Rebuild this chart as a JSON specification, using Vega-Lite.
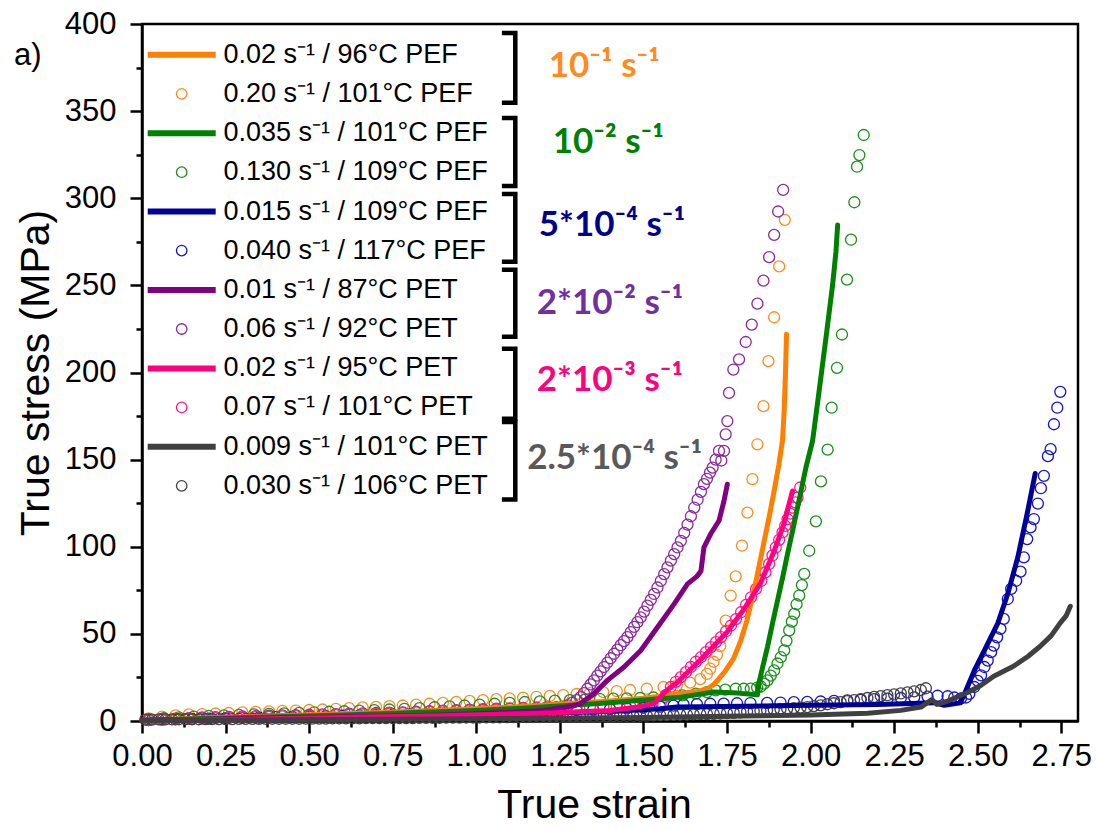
{
"$schema": "https://vega.github.io/schema/vega-lite/v6.json",
"width": 936, "height": 697,
"autosize": {"type": "none"},
"padding": {"left": 142, "top": 24, "right": 18, "bottom": 109},
"background": "white",
"config": {
 "view": {"stroke": "black", "strokeWidth": 2.5},
 "axis": {"grid": false, "domainColor": "black", "domainWidth": 2.5, "tickColor": "black", "tickWidth": 2.5, "tickSize": 12, "labelFont": "Liberation Sans", "labelFontSize": 31, "labelColor": "black", "titleFont": "Liberation Sans", "titleFontSize": 41, "titleFontWeight": "normal", "titleColor": "black"},
 "legend": {"title": null, "orient": "none", "padding": 0, "symbolSize": 100, "symbolOpacity": 1, "labelFont": "Liberation Sans", "labelFontSize": 27, "labelColor": "black", "labelOffset": 28.2, "rowPadding": 50.4, "labelLimit": 500}
},
"datasets": {
 "d": [
  {"s":"P1","x":0.02,"y":1.5},{"s":"P1","x":0.06,"y":2.5},{"s":"P1","x":0.10,"y":3.2},{"s":"P1","x":0.14,"y":3.8},{"s":"P1","x":0.18,"y":4.0},{"s":"P1","x":0.22,"y":4.3},{"s":"P1","x":0.26,"y":4.6},{"s":"P1","x":0.30,"y":4.9},{"s":"P1","x":0.34,"y":5.2},{"s":"P1","x":0.38,"y":5.5},{"s":"P1","x":0.42,"y":5.8},{"s":"P1","x":0.46,"y":6.0},{"s":"P1","x":0.50,"y":6.3},{"s":"P1","x":0.54,"y":6.6},{"s":"P1","x":0.58,"y":7.0},{"s":"P1","x":0.62,"y":7.4},{"s":"P1","x":0.66,"y":7.8},{"s":"P1","x":0.70,"y":8.1},{"s":"P1","x":0.74,"y":8.5},{"s":"P1","x":0.78,"y":8.9},{"s":"P1","x":0.82,"y":9.4},{"s":"P1","x":0.86,"y":9.9},{"s":"P1","x":0.90,"y":10.4},{"s":"P1","x":0.94,"y":11.0},{"s":"P1","x":0.98,"y":11.5},{"s":"P1","x":1.02,"y":12.0},{"s":"P1","x":1.06,"y":12.5},{"s":"P1","x":1.10,"y":13.0},{"s":"P1","x":1.14,"y":13.4},{"s":"P1","x":1.18,"y":13.9},{"s":"P1","x":1.22,"y":14.4},{"s":"P1","x":1.26,"y":14.9},{"s":"P1","x":1.30,"y":15.5},{"s":"P1","x":1.34,"y":16.0},{"s":"P1","x":1.38,"y":16.6},{"s":"P1","x":1.42,"y":17.2},{"s":"P1","x":1.46,"y":17.8},{"s":"P1","x":1.51,"y":18.5},{"s":"P1","x":1.56,"y":19.5},{"s":"P1","x":1.60,"y":20.5},{"s":"P1","x":1.64,"y":22},{"s":"P1","x":1.67,"y":24},{"s":"P1","x":1.69,"y":27},{"s":"P1","x":1.70,"y":30},{"s":"P1","x":1.71,"y":34},{"s":"P1","x":1.72,"y":38},{"s":"P1","x":1.73,"y":43},{"s":"P1","x":1.746,"y":57.6},{"s":"P1","x":1.761,"y":72},{"s":"P1","x":1.776,"y":83},{"s":"P1","x":1.795,"y":100.6},{"s":"P1","x":1.811,"y":119.6},{"s":"P1","x":1.826,"y":138.8},{"s":"P1","x":1.841,"y":158.8},{"s":"P1","x":1.859,"y":180.7},{"s":"P1","x":1.874,"y":206.5},{"s":"P1","x":1.891,"y":231.7},{"s":"P1","x":1.906,"y":260.9},{"s":"P1","x":1.923,"y":287.6},
  {"s":"P2","x":0.02,"y":1.0},{"s":"P2","x":0.065,"y":1.6},{"s":"P2","x":0.11,"y":2.1},{"s":"P2","x":0.155,"y":2.5},{"s":"P2","x":0.20,"y":2.9},{"s":"P2","x":0.245,"y":3.2},{"s":"P2","x":0.29,"y":3.5},{"s":"P2","x":0.335,"y":3.8},{"s":"P2","x":0.38,"y":4.1},{"s":"P2","x":0.425,"y":4.4},{"s":"P2","x":0.47,"y":4.7},{"s":"P2","x":0.515,"y":5.0},{"s":"P2","x":0.56,"y":5.3},{"s":"P2","x":0.605,"y":5.6},{"s":"P2","x":0.65,"y":5.9},{"s":"P2","x":0.695,"y":6.2},{"s":"P2","x":0.74,"y":6.6},{"s":"P2","x":0.785,"y":7.0},{"s":"P2","x":0.83,"y":7.4},{"s":"P2","x":0.875,"y":7.9},{"s":"P2","x":0.92,"y":8.4},{"s":"P2","x":0.965,"y":8.9},{"s":"P2","x":1.01,"y":9.4},{"s":"P2","x":1.055,"y":9.9},{"s":"P2","x":1.10,"y":10.4},{"s":"P2","x":1.145,"y":10.9},{"s":"P2","x":1.19,"y":11.3},{"s":"P2","x":1.235,"y":11.7},{"s":"P2","x":1.28,"y":12.0},{"s":"P2","x":1.325,"y":12.3},{"s":"P2","x":1.37,"y":12.6},{"s":"P2","x":1.41,"y":12.8},{"s":"P2","x":1.45,"y":13.0},{"s":"P2","x":1.49,"y":13.2},{"s":"P2","x":1.53,"y":13.5},{"s":"P2","x":1.565,"y":13.8},{"s":"P2","x":1.617,"y":14.7},{"s":"P2","x":1.657,"y":15.7},{"s":"P2","x":1.69,"y":16.6},{"s":"P2","x":1.716,"y":17.6},{"s":"P2","x":1.745,"y":18.0},{"s":"P2","x":1.776,"y":18.5},{"s":"P2","x":1.80,"y":18.5},{"s":"P2","x":1.821,"y":18.6},{"s":"P2","x":1.84,"y":19.2},{"s":"P2","x":1.851,"y":19.8},{"s":"P2","x":1.861,"y":21.5},{"s":"P2","x":1.871,"y":23.3},{"s":"P2","x":1.881,"y":26},{"s":"P2","x":1.891,"y":29},{"s":"P2","x":1.901,"y":33},{"s":"P2","x":1.911,"y":36.6},{"s":"P2","x":1.921,"y":40.5},{"s":"P2","x":1.928,"y":46},{"s":"P2","x":1.936,"y":52},{"s":"P2","x":1.944,"y":57},{"s":"P2","x":1.951,"y":61.5},{"s":"P2","x":1.958,"y":67},{"s":"P2","x":1.966,"y":72},{"s":"P2","x":1.974,"y":78},{"s":"P2","x":1.981,"y":84.4},{"s":"P2","x":1.996,"y":97.7},{"s":"P2","x":2.016,"y":114.6},{"s":"P2","x":2.031,"y":137.5},{"s":"P2","x":2.051,"y":155.7},{"s":"P2","x":2.063,"y":179.8},{"s":"P2","x":2.079,"y":202.7},{"s":"P2","x":2.094,"y":221.8},{"s":"P2","x":2.109,"y":253.3},{"s":"P2","x":2.121,"y":276.2},{"s":"P2","x":2.131,"y":297.7},{"s":"P2","x":2.139,"y":318.1},{"s":"P2","x":2.146,"y":324.8},{"s":"P2","x":2.159,"y":336.3},
  {"s":"P3","x":0.02,"y":0.5},{"s":"P3","x":0.06,"y":0.8},{"s":"P3","x":0.10,"y":1.0},{"s":"P3","x":0.15,"y":1.2},{"s":"P3","x":0.20,"y":1.4},{"s":"P3","x":0.25,"y":1.6},{"s":"P3","x":0.30,"y":1.8},{"s":"P3","x":0.35,"y":2.0},{"s":"P3","x":0.40,"y":2.2},{"s":"P3","x":0.45,"y":2.4},{"s":"P3","x":0.50,"y":2.6},{"s":"P3","x":0.55,"y":2.8},{"s":"P3","x":0.60,"y":3.0},{"s":"P3","x":0.65,"y":3.2},{"s":"P3","x":0.70,"y":3.4},{"s":"P3","x":0.75,"y":3.6},{"s":"P3","x":0.80,"y":3.8},{"s":"P3","x":0.85,"y":4.0},{"s":"P3","x":0.90,"y":4.2},{"s":"P3","x":0.95,"y":4.4},{"s":"P3","x":1.00,"y":4.6},{"s":"P3","x":1.05,"y":4.8},{"s":"P3","x":1.10,"y":5.0},{"s":"P3","x":1.15,"y":5.3},{"s":"P3","x":1.20,"y":5.6},{"s":"P3","x":1.25,"y":5.9},{"s":"P3","x":1.30,"y":6.2},{"s":"P3","x":1.35,"y":6.5},{"s":"P3","x":1.40,"y":6.8},{"s":"P3","x":1.45,"y":7.2},{"s":"P3","x":1.50,"y":7.6},{"s":"P3","x":1.55,"y":8.2},{"s":"P3","x":1.59,"y":8.8},{"s":"P3","x":1.62,"y":9.5},{"s":"P3","x":1.66,"y":9.7},{"s":"P3","x":1.70,"y":9.9},{"s":"P3","x":1.74,"y":10.0},{"s":"P3","x":1.78,"y":10.2},{"s":"P3","x":1.82,"y":10.3},{"s":"P3","x":1.87,"y":10.4},{"s":"P3","x":1.91,"y":10.6},{"s":"P3","x":1.95,"y":10.8},{"s":"P3","x":1.99,"y":11.0},{"s":"P3","x":2.03,"y":11.2},{"s":"P3","x":2.07,"y":11.5},{"s":"P3","x":2.11,"y":11.8},{"s":"P3","x":2.15,"y":12.1},{"s":"P3","x":2.19,"y":12.5},{"s":"P3","x":2.23,"y":12.8},{"s":"P3","x":2.27,"y":13.2},{"s":"P3","x":2.31,"y":13.6},{"s":"P3","x":2.35,"y":14.0},{"s":"P3","x":2.38,"y":14.5},{"s":"P3","x":2.41,"y":14.2},{"s":"P3","x":2.43,"y":13.5},{"s":"P3","x":2.45,"y":13.0},{"s":"P3","x":2.465,"y":13.5},{"s":"P3","x":2.475,"y":15.6},{"s":"P3","x":2.49,"y":19.5},{"s":"P3","x":2.50,"y":23},{"s":"P3","x":2.51,"y":26.2},{"s":"P3","x":2.52,"y":31},{"s":"P3","x":2.53,"y":34.7},{"s":"P3","x":2.54,"y":39.5},{"s":"P3","x":2.548,"y":43.3},{"s":"P3","x":2.558,"y":48},{"s":"P3","x":2.568,"y":52.9},{"s":"P3","x":2.578,"y":58.6},{"s":"P3","x":2.59,"y":70},{"s":"P3","x":2.60,"y":75.8},{"s":"P3","x":2.615,"y":80.5},{"s":"P3","x":2.628,"y":85.7},{"s":"P3","x":2.638,"y":93.9},{"s":"P3","x":2.648,"y":104.4},{"s":"P3","x":2.658,"y":111.1},{"s":"P3","x":2.668,"y":115.9},{"s":"P3","x":2.68,"y":124.8},{"s":"P3","x":2.689,"y":133.6},{"s":"P3","x":2.698,"y":140.7},{"s":"P3","x":2.71,"y":152},{"s":"P3","x":2.718,"y":156},{"s":"P3","x":2.728,"y":170.3},{"s":"P3","x":2.738,"y":179.8},{"s":"P3","x":2.747,"y":188.9},
  {"s":"P4","x":0.02,"y":0.8},{"s":"P4","x":0.06,"y":1.1},{"s":"P4","x":0.10,"y":1.4},{"s":"P4","x":0.14,"y":1.7},{"s":"P4","x":0.18,"y":2.0},{"s":"P4","x":0.22,"y":2.2},{"s":"P4","x":0.26,"y":2.4},{"s":"P4","x":0.30,"y":2.6},{"s":"P4","x":0.34,"y":2.8},{"s":"P4","x":0.38,"y":3.0},{"s":"P4","x":0.42,"y":3.2},{"s":"P4","x":0.46,"y":3.4},{"s":"P4","x":0.50,"y":3.6},{"s":"P4","x":0.54,"y":3.8},{"s":"P4","x":0.58,"y":4.0},{"s":"P4","x":0.62,"y":4.2},{"s":"P4","x":0.66,"y":4.4},{"s":"P4","x":0.70,"y":4.6},{"s":"P4","x":0.74,"y":4.8},{"s":"P4","x":0.78,"y":5.0},{"s":"P4","x":0.82,"y":5.3},{"s":"P4","x":0.86,"y":5.6},{"s":"P4","x":0.90,"y":5.9},{"s":"P4","x":0.94,"y":6.2},{"s":"P4","x":0.98,"y":6.5},{"s":"P4","x":1.02,"y":6.8},{"s":"P4","x":1.06,"y":7.1},{"s":"P4","x":1.10,"y":7.3},{"s":"P4","x":1.14,"y":7.5},{"s":"P4","x":1.18,"y":7.7},{"s":"P4","x":1.21,"y":7.8},{"s":"P4","x":1.24,"y":7.9},{"s":"P4","x":1.262,"y":8},{"s":"P4","x":1.275,"y":9},{"s":"P4","x":1.287,"y":10.5},{"s":"P4","x":1.30,"y":12},{"s":"P4","x":1.312,"y":13.7},{"s":"P4","x":1.322,"y":16},{"s":"P4","x":1.332,"y":18.5},{"s":"P4","x":1.342,"y":21},{"s":"P4","x":1.352,"y":23.3},{"s":"P4","x":1.362,"y":26},{"s":"P4","x":1.372,"y":28.5},{"s":"P4","x":1.382,"y":31},{"s":"P4","x":1.392,"y":33.5},{"s":"P4","x":1.402,"y":36},{"s":"P4","x":1.412,"y":38.6},{"s":"P4","x":1.422,"y":41},{"s":"P4","x":1.432,"y":43.5},{"s":"P4","x":1.442,"y":45.8},{"s":"P4","x":1.452,"y":48.1},{"s":"P4","x":1.462,"y":51},{"s":"P4","x":1.472,"y":54},{"s":"P4","x":1.482,"y":56.7},{"s":"P4","x":1.492,"y":59.5},{"s":"P4","x":1.502,"y":62.8},{"s":"P4","x":1.512,"y":66.2},{"s":"P4","x":1.522,"y":69.5},{"s":"P4","x":1.532,"y":72.9},{"s":"P4","x":1.542,"y":76.6},{"s":"P4","x":1.552,"y":80.4},{"s":"P4","x":1.562,"y":84.3},{"s":"P4","x":1.572,"y":88.2},{"s":"P4","x":1.582,"y":92},{"s":"P4","x":1.592,"y":95.8},{"s":"P4","x":1.602,"y":99.6},{"s":"P4","x":1.612,"y":103.4},{"s":"P4","x":1.622,"y":108},{"s":"P4","x":1.632,"y":112.7},{"s":"P4","x":1.642,"y":117.5},{"s":"P4","x":1.652,"y":122.5},{"s":"P4","x":1.662,"y":127},{"s":"P4","x":1.672,"y":131.5},{"s":"P4","x":1.681,"y":135.9},{"s":"P4","x":1.690,"y":139},{"s":"P4","x":1.699,"y":142.5},{"s":"P4","x":1.707,"y":145.4},{"s":"P4","x":1.716,"y":150},{"s":"P4","x":1.726,"y":155},{"s":"P4","x":1.733,"y":149.5},{"s":"P4","x":1.741,"y":155},{"s":"P4","x":1.746,"y":164.5},{"s":"P4","x":1.751,"y":172.1},{"s":"P4","x":1.756,"y":188.3},{"s":"P4","x":1.769,"y":201.7},{"s":"P4","x":1.786,"y":207.5},{"s":"P4","x":1.806,"y":217.5},{"s":"P4","x":1.824,"y":227.5},{"s":"P4","x":1.841,"y":239.5},{"s":"P4","x":1.859,"y":252.7},{"s":"P4","x":1.876,"y":266.2},{"s":"P4","x":1.891,"y":279},{"s":"P4","x":1.903,"y":292.4},{"s":"P4","x":1.918,"y":304.8},
  {"s":"P5","x":0.02,"y":0.5},{"s":"P5","x":0.06,"y":0.8},{"s":"P5","x":0.10,"y":1.0},{"s":"P5","x":0.14,"y":1.2},{"s":"P5","x":0.18,"y":1.4},{"s":"P5","x":0.22,"y":1.6},{"s":"P5","x":0.26,"y":1.8},{"s":"P5","x":0.30,"y":2.0},{"s":"P5","x":0.34,"y":2.2},{"s":"P5","x":0.38,"y":2.4},{"s":"P5","x":0.42,"y":2.6},{"s":"P5","x":0.46,"y":2.8},{"s":"P5","x":0.50,"y":3.0},{"s":"P5","x":0.54,"y":3.2},{"s":"P5","x":0.58,"y":3.4},{"s":"P5","x":0.62,"y":3.6},{"s":"P5","x":0.66,"y":3.8},{"s":"P5","x":0.70,"y":4.0},{"s":"P5","x":0.74,"y":4.3},{"s":"P5","x":0.78,"y":4.6},{"s":"P5","x":0.82,"y":4.9},{"s":"P5","x":0.86,"y":5.2},{"s":"P5","x":0.90,"y":5.5},{"s":"P5","x":0.94,"y":5.8},{"s":"P5","x":0.98,"y":6.1},{"s":"P5","x":1.02,"y":6.4},{"s":"P5","x":1.06,"y":6.7},{"s":"P5","x":1.10,"y":7.0},{"s":"P5","x":1.14,"y":7.2},{"s":"P5","x":1.18,"y":7.4},{"s":"P5","x":1.22,"y":7.6},{"s":"P5","x":1.26,"y":7.8},{"s":"P5","x":1.30,"y":8.0},{"s":"P5","x":1.34,"y":8.1},{"s":"P5","x":1.38,"y":8.2},{"s":"P5","x":1.42,"y":8.4},{"s":"P5","x":1.46,"y":8.6},{"s":"P5","x":1.50,"y":8.9},{"s":"P5","x":1.527,"y":9.5},{"s":"P5","x":1.552,"y":10.5},{"s":"P5","x":1.567,"y":15},{"s":"P5","x":1.582,"y":19.5},{"s":"P5","x":1.597,"y":22.5},{"s":"P5","x":1.612,"y":25.2},{"s":"P5","x":1.627,"y":28},{"s":"P5","x":1.642,"y":31},{"s":"P5","x":1.657,"y":34},{"s":"P5","x":1.672,"y":36.6},{"s":"P5","x":1.687,"y":39.5},{"s":"P5","x":1.702,"y":42.4},{"s":"P5","x":1.717,"y":45.3},{"s":"P5","x":1.732,"y":48.1},{"s":"P5","x":1.747,"y":51.5},{"s":"P5","x":1.762,"y":54.8},{"s":"P5","x":1.777,"y":58.5},{"s":"P5","x":1.792,"y":62.4},{"s":"P5","x":1.807,"y":66.7},{"s":"P5","x":1.822,"y":71},{"s":"P5","x":1.837,"y":75.8},{"s":"P5","x":1.853,"y":80.5},{"s":"P5","x":1.865,"y":85.3},{"s":"P5","x":1.876,"y":90.1},{"s":"P5","x":1.886,"y":95},{"s":"P5","x":1.896,"y":99.6},{"s":"P5","x":1.906,"y":104},{"s":"P5","x":1.916,"y":108.2},{"s":"P5","x":1.924,"y":112},{"s":"P5","x":1.931,"y":115.9},{"s":"P5","x":1.939,"y":119},{"s":"P5","x":1.946,"y":122.5},{"s":"P5","x":1.954,"y":125.5},{"s":"P5","x":1.961,"y":128.2},{"s":"P5","x":1.969,"y":134},
  {"s":"P6","x":0.01,"y":0.8},{"s":"P6","x":0.03,"y":0.8},{"s":"P6","x":0.05,"y":0.9},{"s":"P6","x":0.07,"y":0.9},{"s":"P6","x":0.09,"y":0.9},{"s":"P6","x":0.11,"y":1.0},{"s":"P6","x":0.13,"y":1.0},{"s":"P6","x":0.15,"y":1.0},{"s":"P6","x":0.17,"y":1.0},{"s":"P6","x":0.19,"y":1.1},{"s":"P6","x":0.21,"y":1.1},{"s":"P6","x":0.23,"y":1.1},{"s":"P6","x":0.25,"y":1.1},{"s":"P6","x":0.27,"y":1.1},{"s":"P6","x":0.29,"y":1.2},{"s":"P6","x":0.31,"y":1.2},{"s":"P6","x":0.33,"y":1.2},{"s":"P6","x":0.35,"y":1.2},{"s":"P6","x":0.37,"y":1.2},{"s":"P6","x":0.39,"y":1.3},{"s":"P6","x":0.41,"y":1.3},{"s":"P6","x":0.43,"y":1.3},{"s":"P6","x":0.45,"y":1.3},{"s":"P6","x":0.47,"y":1.3},{"s":"P6","x":0.49,"y":1.4},{"s":"P6","x":0.51,"y":1.4},{"s":"P6","x":0.53,"y":1.4},{"s":"P6","x":0.55,"y":1.4},{"s":"P6","x":0.57,"y":1.5},{"s":"P6","x":0.59,"y":1.5},{"s":"P6","x":0.61,"y":1.5},{"s":"P6","x":0.63,"y":1.5},{"s":"P6","x":0.65,"y":1.5},{"s":"P6","x":0.67,"y":1.6},{"s":"P6","x":0.69,"y":1.6},{"s":"P6","x":0.71,"y":1.6},{"s":"P6","x":0.73,"y":1.6},{"s":"P6","x":0.75,"y":1.7},{"s":"P6","x":0.77,"y":1.7},{"s":"P6","x":0.79,"y":1.7},{"s":"P6","x":0.81,"y":1.7},{"s":"P6","x":0.83,"y":1.8},{"s":"P6","x":0.85,"y":1.8},{"s":"P6","x":0.87,"y":1.8},{"s":"P6","x":0.89,"y":1.8},{"s":"P6","x":0.91,"y":1.9},{"s":"P6","x":0.93,"y":1.9},{"s":"P6","x":0.95,"y":1.9},{"s":"P6","x":0.97,"y":2.0},{"s":"P6","x":0.99,"y":2.0},{"s":"P6","x":1.01,"y":2.0},{"s":"P6","x":1.03,"y":2.1},{"s":"P6","x":1.05,"y":2.1},{"s":"P6","x":1.07,"y":2.1},{"s":"P6","x":1.09,"y":2.2},{"s":"P6","x":1.11,"y":2.2},{"s":"P6","x":1.13,"y":2.2},{"s":"P6","x":1.15,"y":2.3},{"s":"P6","x":1.17,"y":2.3},{"s":"P6","x":1.19,"y":2.3},{"s":"P6","x":1.21,"y":2.4},{"s":"P6","x":1.23,"y":2.4},{"s":"P6","x":1.25,"y":2.4},{"s":"P6","x":1.27,"y":2.5},{"s":"P6","x":1.29,"y":2.5},{"s":"P6","x":1.31,"y":2.5},{"s":"P6","x":1.33,"y":2.6},{"s":"P6","x":1.35,"y":2.6},{"s":"P6","x":1.37,"y":2.7},{"s":"P6","x":1.39,"y":2.7},{"s":"P6","x":1.41,"y":2.8},{"s":"P6","x":1.43,"y":2.8},{"s":"P6","x":1.45,"y":2.9},{"s":"P6","x":1.47,"y":2.9},{"s":"P6","x":1.49,"y":3.0},{"s":"P6","x":1.51,"y":3.1},{"s":"P6","x":1.53,"y":3.2},{"s":"P6","x":1.55,"y":3.3},{"s":"P6","x":1.57,"y":3.4},{"s":"P6","x":1.59,"y":3.5},{"s":"P6","x":1.61,"y":3.6},{"s":"P6","x":1.63,"y":3.7},{"s":"P6","x":1.65,"y":3.8},{"s":"P6","x":1.67,"y":3.9},{"s":"P6","x":1.69,"y":4.0},{"s":"P6","x":1.71,"y":4.1},{"s":"P6","x":1.73,"y":4.3},{"s":"P6","x":1.75,"y":4.5},{"s":"P6","x":1.77,"y":4.7},{"s":"P6","x":1.79,"y":5.0},{"s":"P6","x":1.81,"y":5.3},{"s":"P6","x":1.83,"y":5.6},{"s":"P6","x":1.85,"y":5.9},{"s":"P6","x":1.87,"y":6.2},{"s":"P6","x":1.89,"y":6.5},{"s":"P6","x":1.91,"y":6.8},{"s":"P6","x":1.93,"y":7.1},{"s":"P6","x":1.95,"y":7.4},{"s":"P6","x":1.97,"y":7.7},{"s":"P6","x":1.99,"y":8.0},{"s":"P6","x":2.01,"y":8.5},{"s":"P6","x":2.03,"y":9.0},{"s":"P6","x":2.05,"y":9.6},{"s":"P6","x":2.07,"y":10.2},{"s":"P6","x":2.09,"y":10.8},{"s":"P6","x":2.11,"y":11.4},{"s":"P6","x":2.13,"y":12.0},{"s":"P6","x":2.15,"y":12.6},{"s":"P6","x":2.17,"y":13.2},{"s":"P6","x":2.19,"y":13.8},{"s":"P6","x":2.21,"y":14.3},{"s":"P6","x":2.23,"y":14.8},{"s":"P6","x":2.25,"y":15.3},{"s":"P6","x":2.27,"y":15.8},{"s":"P6","x":2.29,"y":16.4},{"s":"P6","x":2.31,"y":17.0},{"s":"P6","x":2.33,"y":17.8},{"s":"P6","x":2.345,"y":18.8},
  {"s":"L1","x":0,"y":0.5},{"s":"L1","x":0.2,"y":1.8},{"s":"L1","x":0.4,"y":3},{"s":"L1","x":0.6,"y":4.2},{"s":"L1","x":0.8,"y":5.5},{"s":"L1","x":1.0,"y":7},{"s":"L1","x":1.2,"y":9},{"s":"L1","x":1.4,"y":11.5},{"s":"L1","x":1.5,"y":13},{"s":"L1","x":1.6,"y":15.5},{"s":"L1","x":1.66,"y":17},{"s":"L1","x":1.692,"y":18.5},{"s":"L1","x":1.71,"y":21},{"s":"L1","x":1.725,"y":24},{"s":"L1","x":1.746,"y":29},{"s":"L1","x":1.77,"y":36},{"s":"L1","x":1.791,"y":46},{"s":"L1","x":1.81,"y":58},{"s":"L1","x":1.831,"y":75},{"s":"L1","x":1.846,"y":89},{"s":"L1","x":1.861,"y":103},{"s":"L1","x":1.876,"y":117},{"s":"L1","x":1.891,"y":132},{"s":"L1","x":1.905,"y":147},{"s":"L1","x":1.916,"y":161},{"s":"L1","x":1.921,"y":178},{"s":"L1","x":1.925,"y":200},{"s":"L1","x":1.928,"y":222},
  {"s":"L2","x":0,"y":0.5},{"s":"L2","x":0.2,"y":1.5},{"s":"L2","x":0.4,"y":2.5},{"s":"L2","x":0.6,"y":3.5},{"s":"L2","x":0.8,"y":4.8},{"s":"L2","x":1.0,"y":6},{"s":"L2","x":1.2,"y":8},{"s":"L2","x":1.4,"y":10.5},{"s":"L2","x":1.5,"y":12},{"s":"L2","x":1.612,"y":13.7},{"s":"L2","x":1.711,"y":16.6},{"s":"L2","x":1.781,"y":16},{"s":"L2","x":1.841,"y":15},{"s":"L2","x":1.845,"y":21.4},{"s":"L2","x":1.858,"y":32},{"s":"L2","x":1.871,"y":42.4},{"s":"L2","x":1.886,"y":56},{"s":"L2","x":1.901,"y":69},{"s":"L2","x":1.916,"y":82},{"s":"L2","x":1.931,"y":95.8},{"s":"L2","x":1.946,"y":109},{"s":"L2","x":1.961,"y":122.5},{"s":"L2","x":1.986,"y":145.4},{"s":"L2","x":2.006,"y":160.7},{"s":"L2","x":2.026,"y":190},{"s":"L2","x":2.046,"y":219.8},{"s":"L2","x":2.066,"y":250.4},{"s":"L2","x":2.076,"y":269.5},{"s":"L2","x":2.081,"y":284.7},
  {"s":"L3","x":0,"y":0.3},{"s":"L3","x":0.3,"y":1},{"s":"L3","x":0.6,"y":2},{"s":"L3","x":0.9,"y":3},{"s":"L3","x":1.2,"y":4.5},{"s":"L3","x":1.4,"y":5.5},{"s":"L3","x":1.55,"y":7},{"s":"L3","x":1.6,"y":8},{"s":"L3","x":1.8,"y":8.5},{"s":"L3","x":2.0,"y":9},{"s":"L3","x":2.2,"y":9.5},{"s":"L3","x":2.3,"y":10},{"s":"L3","x":2.37,"y":10.5},{"s":"L3","x":2.40,"y":9},{"s":"L3","x":2.448,"y":10.4},{"s":"L3","x":2.465,"y":17.6},{"s":"L3","x":2.49,"y":29},{"s":"L3","x":2.52,"y":40.5},{"s":"L3","x":2.56,"y":56},{"s":"L3","x":2.59,"y":73},{"s":"L3","x":2.62,"y":94},{"s":"L3","x":2.65,"y":121},{"s":"L3","x":2.672,"y":142},
  {"s":"L4","x":0,"y":0.5},{"s":"L4","x":0.3,"y":1.5},{"s":"L4","x":0.6,"y":2.5},{"s":"L4","x":0.9,"y":3.5},{"s":"L4","x":1.1,"y":5},{"s":"L4","x":1.2,"y":6},{"s":"L4","x":1.272,"y":8},{"s":"L4","x":1.312,"y":10},{"s":"L4","x":1.352,"y":15.7},{"s":"L4","x":1.392,"y":23.3},{"s":"L4","x":1.442,"y":31},{"s":"L4","x":1.492,"y":40.5},{"s":"L4","x":1.542,"y":53.8},{"s":"L4","x":1.592,"y":67.2},{"s":"L4","x":1.632,"y":78.7},{"s":"L4","x":1.66,"y":83},{"s":"L4","x":1.672,"y":86},{"s":"L4","x":1.681,"y":99.6},{"s":"L4","x":1.701,"y":107.3},{"s":"L4","x":1.726,"y":114.9},{"s":"L4","x":1.741,"y":126.3},{"s":"L4","x":1.751,"y":135.9},
  {"s":"L5","x":0,"y":0.3},{"s":"L5","x":0.3,"y":1},{"s":"L5","x":0.6,"y":2},{"s":"L5","x":0.9,"y":3},{"s":"L5","x":1.2,"y":4.5},{"s":"L5","x":1.4,"y":6},{"s":"L5","x":1.482,"y":8},{"s":"L5","x":1.532,"y":10},{"s":"L5","x":1.572,"y":18},{"s":"L5","x":1.60,"y":22},{"s":"L5","x":1.632,"y":28},{"s":"L5","x":1.67,"y":35},{"s":"L5","x":1.70,"y":41},{"s":"L5","x":1.75,"y":51},{"s":"L5","x":1.80,"y":64},{"s":"L5","x":1.85,"y":79},{"s":"L5","x":1.89,"y":97},{"s":"L5","x":1.92,"y":113},{"s":"L5","x":1.935,"y":124},{"s":"L5","x":1.946,"y":132},
  {"s":"L6","x":0,"y":0.3},{"s":"L6","x":0.3,"y":0.6},{"s":"L6","x":0.6,"y":0.9},{"s":"L6","x":0.9,"y":1.2},{"s":"L6","x":1.2,"y":1.6},{"s":"L6","x":1.5,"y":2.0},{"s":"L6","x":1.8,"y":2.8},{"s":"L6","x":2.0,"y":3.4},{"s":"L6","x":2.171,"y":4.5},{"s":"L6","x":2.27,"y":6.1},{"s":"L6","x":2.33,"y":8},{"s":"L6","x":2.363,"y":12.3},{"s":"L6","x":2.378,"y":9.5},{"s":"L6","x":2.41,"y":11.4},{"s":"L6","x":2.468,"y":16.2},{"s":"L6","x":2.51,"y":20.5},{"s":"L6","x":2.548,"y":25.7},{"s":"L6","x":2.607,"y":31.4},{"s":"L6","x":2.65,"y":37},{"s":"L6","x":2.687,"y":42.9},{"s":"L6","x":2.72,"y":49},{"s":"L6","x":2.747,"y":56.3},{"s":"L6","x":2.765,"y":60.5},{"s":"L6","x":2.777,"y":65.8}
 ],
 "brackets": [
  {"b":1,"o":1,"x":1.0766,"y":394.8},{"b":1,"o":2,"x":1.1167,"y":394.8},{"b":1,"o":3,"x":1.1167,"y":354.8},{"b":1,"o":4,"x":1.0766,"y":354.8},
  {"b":2,"o":1,"x":1.0766,"y":346.1},{"b":2,"o":2,"x":1.1167,"y":346.1},{"b":2,"o":3,"x":1.1167,"y":307.1},{"b":2,"o":4,"x":1.0766,"y":307.1},
  {"b":3,"o":1,"x":1.0766,"y":302.5},{"b":3,"o":2,"x":1.1167,"y":302.5},{"b":3,"o":3,"x":1.1167,"y":263.5},{"b":3,"o":4,"x":1.0766,"y":263.5},
  {"b":4,"o":1,"x":1.0766,"y":258.9},{"b":4,"o":2,"x":1.1167,"y":258.9},{"b":4,"o":3,"x":1.1167,"y":220.5},{"b":4,"o":4,"x":1.0766,"y":220.5},
  {"b":5,"o":1,"x":1.0766,"y":213.6},{"b":5,"o":2,"x":1.1167,"y":213.6},{"b":5,"o":3,"x":1.1167,"y":173.5},{"b":5,"o":4,"x":1.0766,"y":173.5},
  {"b":6,"o":1,"x":1.0766,"y":171.6},{"b":6,"o":2,"x":1.1167,"y":171.6},{"b":6,"o":3,"x":1.1167,"y":127.1},{"b":6,"o":4,"x":1.0766,"y":127.1}
 ],
 "rates": [
  {"g":"g1","t":"10⁻¹ s⁻¹","x":1.383,"y":375.7},
  {"g":"g2","t":"10⁻² s⁻¹","x":1.395,"y":332.4},
  {"g":"g3","t":"5*10⁻⁴ s⁻¹","x":1.406,"y":284.8},
  {"g":"g4","t":"2*10⁻² s⁻¹","x":1.400,"y":240.0},
  {"g":"g5","t":"2*10⁻³ s⁻¹","x":1.400,"y":195.8},
  {"g":"g6","t":"2.5*10⁻⁴ s⁻¹","x":1.414,"y":151.1}
 ]
},
"layer": [
 {
  "data": {"name": "d"},
  "transform": [{"filter": "indexof(datum.s, 'P') === 0"}],
  "mark": {"type": "point", "filled": false, "size": 121, "strokeWidth": 1.3, "opacity": 1},
  "encoding": {
   "x": {"field": "x", "type": "quantitative", "scale": {"domain": [0, 2.8], "nice": false, "zero": false},
         "axis": {"values": [0, 0.25, 0.5, 0.75, 1, 1.25, 1.5, 1.75, 2, 2.25, 2.5, 2.75], "format": ".2f", "title": "True strain", "titleX": 452, "labelPadding": 8, "titlePadding": 14, "labelFlush": false, "labelOverlap": false}},
   "y": {"field": "y", "type": "quantitative", "scale": {"domain": [0, 400], "nice": false},
         "axis": {"values": [0, 50, 100, 150, 200, 250, 300, 350, 400], "format": "d", "title": "True stress (MPa)", "labelPadding": 14, "titlePadding": 7, "labelFlush": false, "labelOverlap": false}},
   "color": {"field": "s", "type": "nominal",
     "scale": {"domain": ["P1","P2","P3","P4","P5","P6"],
               "range": ["#FF8C1A","#1A8F1A","#1414C8","#8B2A9B","#FF1A8C","#404040"]},
     "legend": {"legendX": 26.2, "legendY": 56.3, "symbolType": "circle", "symbolSize": 110, "symbolStrokeWidth": 1.3,
       "labelExpr": "datum.value == 'P1' ? '0.20 s⁻¹ / 101°C PEF' : datum.value == 'P2' ? '0.130 s⁻¹ / 109°C PEF' : datum.value == 'P3' ? '0.040 s⁻¹ / 117°C PEF' : datum.value == 'P4' ? '0.06 s⁻¹ / 92°C PET' : datum.value == 'P5' ? '0.07 s⁻¹ / 101°C PET' : '0.030 s⁻¹ / 106°C PET'"}}
  }
 },
 {
  "data": {"name": "d"},
  "transform": [{"filter": "indexof(datum.s, 'L') === 0"}],
  "mark": {"type": "line", "strokeWidth": 5, "strokeJoin": "round", "strokeCap": "round"},
  "encoding": {
   "x": {"field": "x", "type": "quantitative",
         "axis": {"orient": "bottom", "values": [0.125, 0.375, 0.625, 0.875, 1.125, 1.375, 1.625, 1.875, 2.125, 2.375, 2.625], "labels": false, "domain": false, "tickSize": 6, "title": null}},
   "y": {"field": "y", "type": "quantitative",
         "axis": {"orient": "left", "values": [25, 75, 125, 175, 225, 275, 325, 375], "labels": false, "domain": false, "tickSize": 6, "title": null}},
   "stroke": {"field": "s", "type": "nominal",
     "scale": {"domain": ["L1","L2","L3","L4","L5","L6"],
               "range": ["#FF7F00","#008000","#000099","#800080","#FF0080","#404040"]},
     "legend": {"legendX": 26.2, "legendY": 17.3, "symbolType": "M-6.8,0H6.8", "symbolStrokeWidth": 6,
       "labelExpr": "datum.value == 'L1' ? '0.02 s⁻¹ / 96°C PEF' : datum.value == 'L2' ? '0.035 s⁻¹ / 101°C PEF' : datum.value == 'L3' ? '0.015 s⁻¹ / 109°C PEF' : datum.value == 'L4' ? '0.01 s⁻¹ / 87°C PET' : datum.value == 'L5' ? '0.02 s⁻¹ / 95°C PET' : '0.009 s⁻¹ / 101°C PET'"}}
  }
 },
 {
  "data": {"name": "brackets"},
  "mark": {"type": "line", "stroke": "black", "strokeWidth": 4.5, "strokeJoin": "miter"},
  "encoding": {
   "x": {"field": "x", "type": "quantitative", "axis": null},
   "y": {"field": "y", "type": "quantitative", "axis": null},
   "detail": {"field": "b", "type": "nominal"},
   "order": {"field": "o", "type": "quantitative"}
  }
 },
 {
  "data": {"name": "rates"},
  "mark": {"type": "text", "font": "Lato", "fontWeight": "bold", "fontSize": 35, "align": "center", "baseline": "middle"},
  "encoding": {
   "x": {"field": "x", "type": "quantitative", "axis": null},
   "y": {"field": "y", "type": "quantitative", "axis": null},
   "text": {"field": "t", "type": "nominal"},
   "fill": {"field": "g", "type": "nominal", "legend": null,
     "scale": {"domain": ["g1","g2","g3","g4","g5","g6"], "range": ["#FF8C1A","#008000","#00008B","#7030A0","#FF0080","#595959"]}}
  }
 },
 {
  "data": {"values": [{"t": "a)", "x": -0.342, "y": 381.6}]},
  "mark": {"type": "text", "font": "Liberation Sans", "fontSize": 31, "align": "center", "baseline": "middle", "color": "black"},
  "encoding": {
   "x": {"field": "x", "type": "quantitative", "axis": null},
   "y": {"field": "y", "type": "quantitative", "axis": null},
   "text": {"field": "t", "type": "nominal"}
  }
 }
],
"resolve": {"axis": {"x": "independent", "y": "independent"}}
}
